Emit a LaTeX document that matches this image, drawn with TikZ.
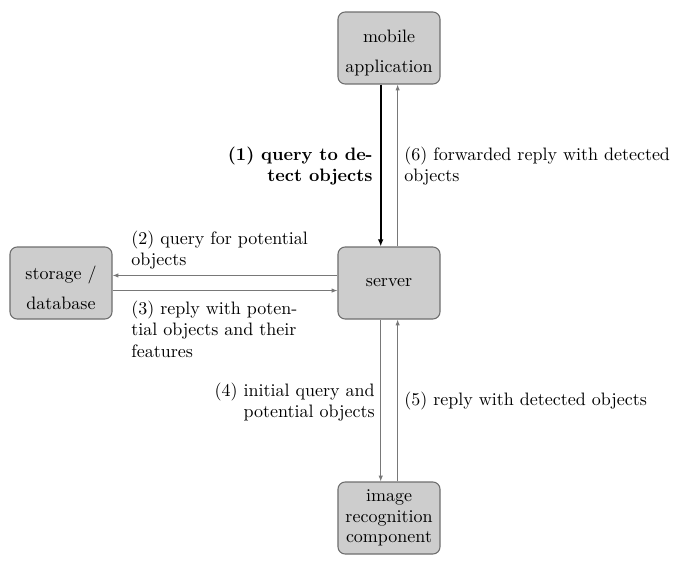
\documentclass[tikz,border=0pt]{standalone}
\usetikzlibrary{arrows.meta}
\definecolor{boxfill}{RGB}{205,205,205}
\definecolor{boxline}{RGB}{110,110,110}
\definecolor{arrgray}{RGB}{120,120,120}
\tikzset{
  compbox/.style={draw=boxline, fill=boxfill, line width=0.6pt, rounded corners=4pt,
    minimum width=56.7pt, minimum height=40pt, align=center, inner sep=1pt},
  thinarr/.style={draw=arrgray, line width=0.45pt, -{Latex[length=3.2pt,width=2.4pt]}},
  thickarr/.style={draw=black, line width=1.1pt, -{Latex[length=4pt,width=3.2pt]}},
  lbl/.style={inner sep=0pt, font=\normalsize}
}
\begin{document}
\begin{tikzpicture}[x=0.5556pt,y=-0.5556pt]
\useasboundingbox (0,0) rectangle (700,564);
\node[compbox] (mobile) at (389,48) {\rule{0pt}{12.3pt}mobile\\[4.5pt]application};
\node[compbox] (server) at (389,283) {server};
\node[compbox] (storage) at (61,283) {\rule{0pt}{12.6pt}storage /\\[4.5pt]database};
\node[compbox] (image) at (389,518) {image\\[-0.7pt]recognition\\[-0.7pt]component};

\draw[thickarr] ([xshift=-4.6pt]mobile.south) -- ([xshift=-4.6pt]server.north);
\draw[thinarr] ([xshift=4.8pt]server.north) -- ([xshift=4.8pt]mobile.south);
\draw[thinarr] ([yshift=4.2pt]server.west) -- ([yshift=4.2pt]storage.east);
\draw[thinarr] ([yshift=-4.2pt]storage.east) -- ([yshift=-4.2pt]server.west);
\draw[thinarr] ([xshift=-4.6pt]server.south) -- ([xshift=-4.6pt]image.north);
\draw[thinarr] ([xshift=4.8pt]image.north) -- ([xshift=4.8pt]server.south);

\node[lbl, anchor=north east, align=right] (l1) at (373,146.5) {\bfseries (1) query to de-\\\bfseries tect objects};
\node[lbl, anchor=north west, align=left] (l6) at (404,146.5) {(6) forwarded reply with detected\\objects};
\node[lbl, anchor=north west, align=left] (l2) at (131,230.5) {(2) query for potential\\objects};
\node[lbl, anchor=north west, align=left] (l3) at (131,300.5) {(3) reply with poten-\\tial objects and their\\features};
\node[lbl, anchor=north east, align=right] (l4) at (375,382.5) {(4) initial query and\\potential objects};
\node[lbl, anchor=north west, align=left] (l5) at (404,391.5) {(5) reply with detected objects};
\end{tikzpicture}
\end{document}
